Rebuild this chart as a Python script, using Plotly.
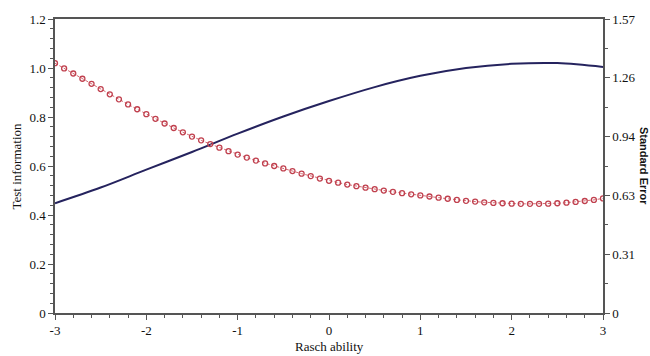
import plotly.graph_objects as go

# Test information curve (left axis units)
info_x = [-3.0, -2.5, -2.0, -1.5, -1.0, -0.5, 0.0, 0.5, 1.0, 1.5, 2.0, 2.5, 3.0]
info_y = [0.448, 0.512, 0.585, 0.657, 0.732, 0.802, 0.865, 0.922, 0.968, 1.000, 1.017, 1.020, 1.004]

# Standard error curve (right axis units)
se_x = [round(-3 + 0.1 * i, 1) for i in range(61)]
se_y = [1.334, 1.306, 1.279, 1.251, 1.224, 1.196, 1.168, 1.141, 1.114, 1.088,
        1.062, 1.037, 1.012, 0.988, 0.965, 0.942, 0.922, 0.902, 0.883, 0.864,
        0.846, 0.830, 0.814, 0.799, 0.785, 0.772, 0.758, 0.744, 0.731, 0.718,
        0.706, 0.696, 0.686, 0.677, 0.669, 0.661, 0.654, 0.647, 0.640, 0.634,
        0.628, 0.622, 0.616, 0.610, 0.604, 0.599, 0.595, 0.591, 0.588, 0.586,
        0.584, 0.583, 0.583, 0.583, 0.584, 0.586, 0.589, 0.593, 0.598, 0.604,
        0.612]

x_ticks = [-3, -2, -1, 0, 1, 2, 3]
x_labels = ["-3", "-2", "-1", "0", "1", "2", "3"]
y_ticks = [0, 0.2, 0.4, 0.6, 0.8, 1.0, 1.2]
y_labels = ["0", "0.2", "0.4", "0.6", "0.8", "1.0", "1.2"]
y2_ticks = [0, 0.314, 0.628, 0.942, 1.256, 1.57]
y2_labels = ["0", "0.31", "0.63", "0.94", "1.26", "1.57"]

serif = "Liberation Serif"
axis_col = "#555555"

fig = go.Figure()
fig.add_trace(go.Scatter(x=info_x, y=info_y, mode="lines",
                         line=dict(color="#25235e", width=2, shape="spline"),
                         yaxis="y", showlegend=False))
fig.add_trace(go.Scatter(x=se_x, y=se_y, mode="lines+markers",
                         line=dict(color="#d46a72", width=1, dash="3px,2px"),
                         marker=dict(symbol="circle-open", size=5,
                                     color="#c0404e", line=dict(width=1.3)),
                         yaxis="y2", showlegend=False))

common = dict(showgrid=False, zeroline=False, showline=True, linecolor=axis_col,
              linewidth=1.5, ticks="outside", ticklen=5, tickcolor=axis_col,
              tickfont=dict(family=serif, size=13, color="#111"))

fig.update_layout(
    width=650, height=356,
    margin=dict(l=55, r=47, t=12, b=43),
    paper_bgcolor="white", plot_bgcolor="white",
    xaxis=dict(range=[-3, 3], tickvals=x_ticks, ticktext=x_labels, mirror=True,
               minor=dict(dtick=0.2, ticks="outside", ticklen=3, tickcolor=axis_col),
               **common),
    yaxis=dict(range=[0, 1.2], tickvals=y_ticks, ticktext=y_labels,
               minor=dict(dtick=0.04, ticks="outside", ticklen=3, tickcolor=axis_col),
               **common),
    yaxis2=dict(range=[0, 1.57], tickvals=y2_ticks, ticktext=y2_labels,
                overlaying="y", side="right",
                minor=dict(tickvals=[0.157, 0.471, 0.785, 1.099, 1.413],
                           ticks="outside", ticklen=3, tickcolor=axis_col),
                **common),
    annotations=[
        dict(text="Test information", xref="paper", yref="paper", x=-0.072, y=0.5,
             textangle=-90, showarrow=False, xanchor="center", yanchor="middle",
             font=dict(family=serif, size=13, color="#111")),
        dict(text="Rasch ability", xref="paper", yref="paper", x=0.5, y=-0.113,
             showarrow=False, xanchor="center", yanchor="middle",
             font=dict(family=serif, size=13, color="#111")),
        dict(text="<b>Standard Error</b>", xref="paper", yref="paper", x=1.075, y=0.5,
             textangle=90, showarrow=False, xanchor="center", yanchor="middle",
             font=dict(family="Liberation Sans", size=11, color="#111")),
    ],
)

fig.write_html("out.html")
